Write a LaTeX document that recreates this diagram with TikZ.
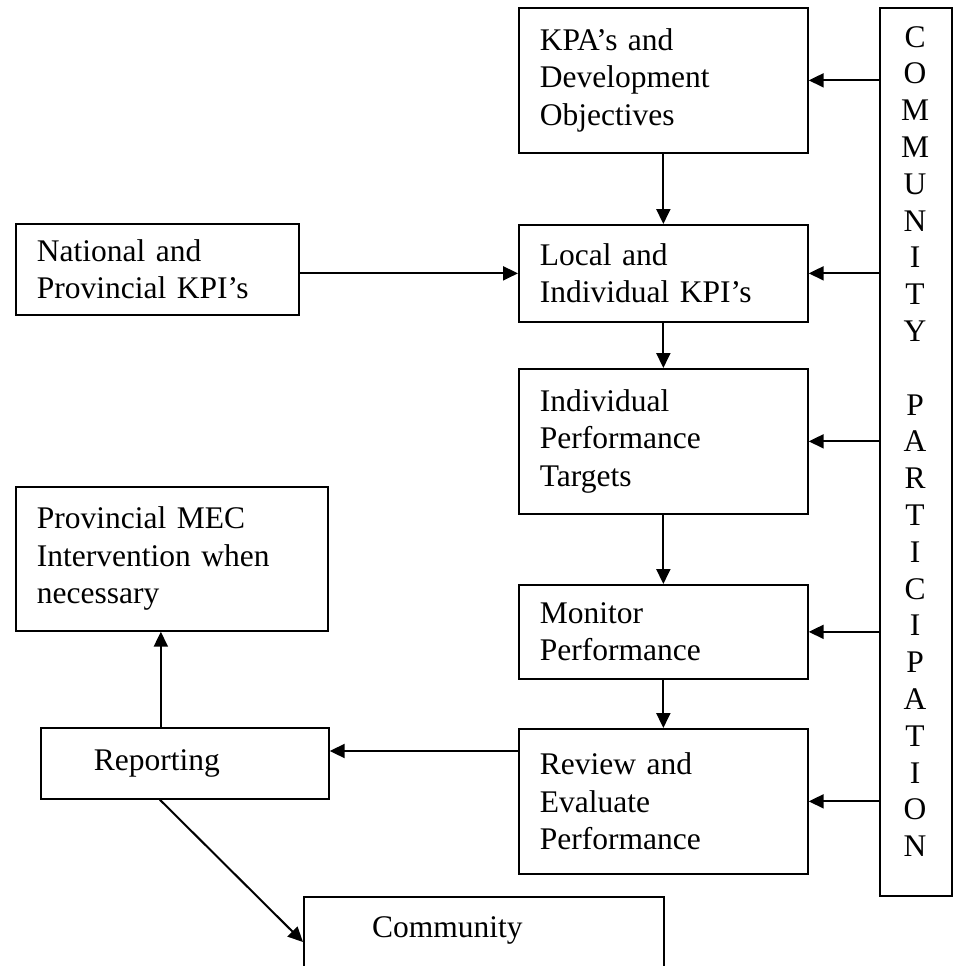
\documentclass[tikz,border=0pt]{standalone}
\usepackage{fontspec}
\setmainfont{Liberation Serif}
\usetikzlibrary{arrows.meta}
\begin{document}
\begin{tikzpicture}[x=1pt,y=-1pt,
  box/.style={draw, line width=1.7pt, anchor=north west, align=left, inner xsep=21pt, inner ysep=0pt,
    font=\fontsize{31.5}{37.5}\selectfont},
  plainbox/.style={draw, line width=1.7pt, anchor=north west, inner sep=0pt},
  txt/.style={inner sep=0pt, font=\fontsize{31.5}{37.5}\selectfont},
  arr/.style={line width=2pt, -{Triangle[length=15pt,width=14pt]}}]
\useasboundingbox (0,0) rectangle (953,966);
\clip (0,0) rectangle (953,966);

\node[box, minimum width=289pt, minimum height=145pt, text width=247pt] (kpa) at (518,7) {KPA’s and\\Development\\Objectives};
\node[box, minimum width=289pt, minimum height=97pt, text width=247pt] (loc) at (518,224) {Local and\\Individual KPI’s};
\node[box, minimum width=289pt, minimum height=145pt, text width=247pt] (tgt) at (518,368) {Individual\\Performance\\Targets};
\node[box, minimum width=289pt, minimum height=94pt, text width=247pt] (mon) at (518,584) {Monitor\\Performance};
\node[box, minimum width=289pt, minimum height=145pt, text width=247pt] (rev) at (518,728) {Review and\\Evaluate\\Performance};
\node[box, minimum width=283pt, minimum height=91pt, text width=241pt] (nat) at (15,223) {National and\\Provincial KPI’s};
\node[box, minimum width=312pt, minimum height=144pt, text width=270pt] (mec) at (15,486) {Provincial MEC\\Intervention when\\necessary};
\node[box, minimum width=288pt, minimum height=71pt, text width=246pt] (rep) at (40,727) {\hspace*{32pt}Reporting};

\node[plainbox, minimum width=72pt, minimum height=888pt] (col) at (879,7) {};
\node[txt, anchor=north, align=center, font=\fontsize{31.5}{36.8}\selectfont] (coltxt) at (915,26)
  {C\\O\\M\\M\\U\\N\\I\\T\\Y\\[36.8pt]P\\A\\R\\T\\I\\C\\I\\P\\A\\T\\I\\O\\N};

\node[plainbox, minimum width=360pt, minimum height=110pt] (comm) at (303,896) {};
\node[txt, anchor=base west] (commtxt) at (372,937) {Community};

\draw[arr] (kpa.south) -- (loc.north);
\draw[arr] (loc.south) -- (tgt.north);
\draw[arr] (tgt.south) -- (mon.north);
\draw[arr] (mon.south) -- (rev.north);
\draw[arr] (nat.east |- loc.west) -- (loc.west);
\foreach \b in {kpa,loc,tgt,mon,rev}
  \draw[arr] (col.west |- \b.east) -- (\b.east);
\coordinate (rA) at ([yshift=-23pt]rev.north west);
\draw[arr] (rA) -- (rep.east |- rA);
\coordinate (rB) at ([xshift=-24pt]rep.north);
\draw[arr] (rB) -- (mec.south -| rB);
\coordinate (rC) at ([xshift=-25pt]rep.south);
\draw[arr] (rC) -- ([yshift=-46pt]comm.north west);
\end{tikzpicture}
\end{document}
